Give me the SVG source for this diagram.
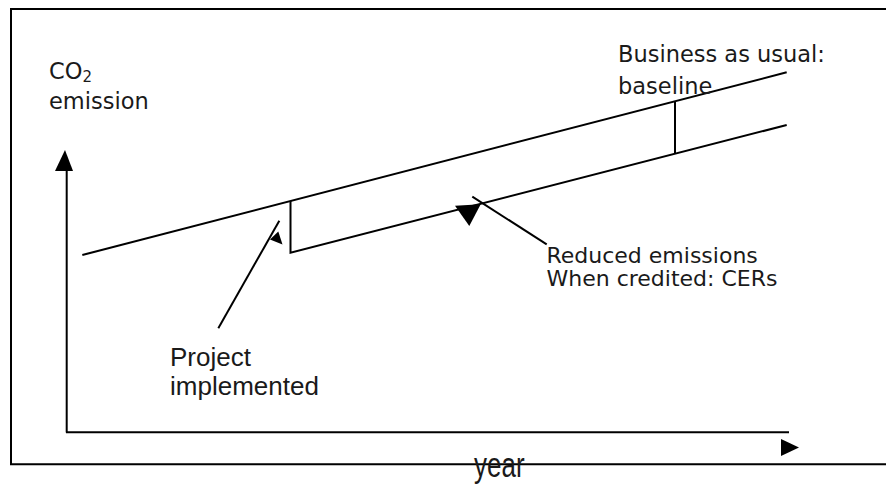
<svg xmlns="http://www.w3.org/2000/svg" width="886" height="485" viewBox="0 0 886 485">
<style>
.ln{stroke:#000;stroke-width:2;fill:none}
.ah{fill:#000;stroke:none}
.t{font-family:"DejaVu Sans",Verdana,sans-serif;font-size:22.5px;fill:#1a1a1a}
.a{font-family:"Liberation Sans",Arial,sans-serif;font-size:26px;fill:#1a1a1a}
</style>
<rect width="886" height="485" fill="#fff"/>
<g id="frame">
<path class="ln" d="M890 9H11V464.3H890"/>
</g>
<g id="connectors">
<line class="ln" x1="66.7" y1="165" x2="66.7" y2="432.5"/>
<polygon class="ah" points="65,150 55,171 73,171"/>
<line class="ln" x1="66" y1="432.3" x2="789" y2="432.3"/>
<polygon class="ah" points="781,439 781,456 799,447.5"/>
<line class="ln" x1="82.3" y1="255" x2="786.7" y2="72.3"/>
<path class="ln" d="M290.5 201V252.7L786.7 125"/>
<line class="ln" x1="675" y1="101.5" x2="675" y2="154"/>
<line class="ln" x1="218.3" y1="328.3" x2="279.3" y2="220.7"/>
<polygon class="ah" points="270,239.5 278.3,231.5 282.5,244.5"/>
<line class="ln" x1="546.7" y1="244.3" x2="472.3" y2="196.7"/>
<polygon class="ah" points="455,205.7 480.7,204.3 469.3,226"/>
</g>
<g id="y-label">
<text class="t" x="49" y="79">CO<tspan font-size="15" dy="3">2</tspan></text>
<text class="t" x="49" y="109">emission</text>
</g>
<g id="baseline-label">
<text class="t" x="618" y="62">Business as usual:</text>
<text class="t" x="618" y="94">baseline</text>
</g>
<g id="reduced-label">
<text class="t" x="546.5" y="262.5" style="font-size:22px">Reduced emissions</text>
<text class="t" x="546.5" y="286" style="font-size:22px">When credited: CERs</text>
</g>
<g id="project-label">
<text class="a" x="170" y="366">Project</text>
<text class="a" x="170" y="395">implemented</text>
</g>
<g id="x-label">
<text class="a" transform="translate(474,477) scale(1,1.35)" x="0" y="0">year</text>
</g>
</svg>
